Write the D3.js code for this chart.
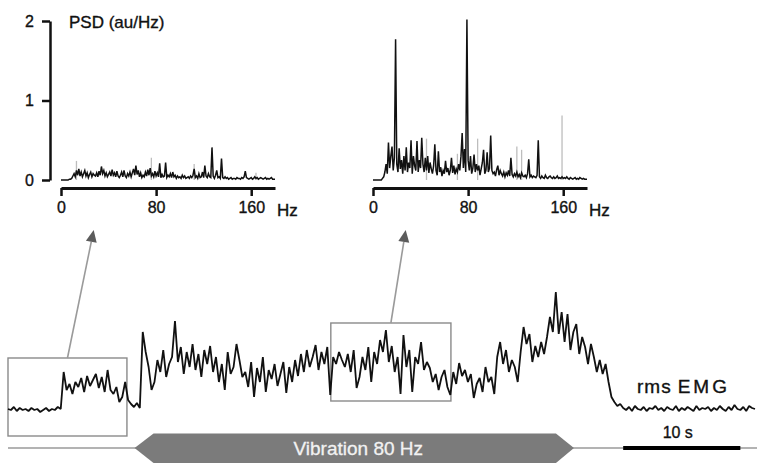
<!DOCTYPE html>
<html><head><meta charset="utf-8">
<script src="https://cdn.jsdelivr.net/npm/d3@7/dist/d3.min.js"></script>
<style>
body{margin:0;background:#fff}
svg{display:block}
text{font-family:"Liberation Sans",Arial,Helvetica,sans-serif}
</style>
</head><body>
<svg id="chart" width="766" height="472"></svg>
<script>
// ---------- DATA ----------
const psdFreqMax = 180;              // Hz, 1 Hz bins
const psdXTicks = [0, 80, 160];
const psdYTicks = [0, 1, 2];
const psdYLabel = "PSD (au/Hz)";
const freqUnit = "Hz";

// PSD at rest (window before vibration), au/Hz, index = Hz
const psdRest = [
0,0,0,0,0,0,0,0.01,0.01,0.02,
0.05,0.08,0.04,0.12,0.06,0.14,0.05,0.10,0.04,0.08,
0.12,0.05,0.09,0.03,0.07,0.10,0.04,0.08,0.06,0.05,
0.09,0.04,0.11,0.06,0.17,0.08,0.12,0.05,0.09,0.04,
0.07,0.10,0.05,0.13,0.06,0.09,0.04,0.11,0.05,0.03,
0.06,0.10,0.04,0.12,0.05,0.03,0.08,0.05,0.10,0.04,
0.09,0.14,0.06,0.18,0.07,0.12,0.04,0.09,0.03,0.06,
0.04,0.10,0.05,0.13,0.06,0.15,0.05,0.08,0.04,0.11,
0.05,0.09,0.04,0.21,0.03,0.07,0.04,0.05,0.22,0.03,
0.06,0.04,0.08,0.03,0.10,0.04,0.06,0.02,0.05,0.03,
0.04,0.02,0.06,0.03,0.05,0.02,0.03,0.04,0.02,0.05,
0.03,0.06,0.14,0.03,0.05,0.02,0.08,0.03,0.04,0.10,
0.03,0.18,0.05,0.03,0.08,0.04,0.03,0.41,0.05,0.02,
0.06,0.12,0.03,0.04,0.02,0.27,0.03,0.02,0.04,0.02,
0.03,0.01,0.02,0.03,0.01,0.02,0.02,0.01,0.03,0.02,
0.02,0.01,0.03,0.02,0.04,0.11,0.03,0.02,0.01,0.02,
0.03,0.01,0.02,0.04,0.02,0.03,0.01,0.02,0.03,0.02,
0.01,0.02,0.03,0.01,0.02,0.01,0.02,0.03,0.01,0.01,0.01
];
const psdRestLight = [[13,0.24],[76,0.28],[112,0.20],[164,0.09]];

// PSD during vibration, au/Hz, index = Hz
const psdVib = [
0,0,0,0,0,0,0,0,0.02,0.04,
0.10,0.20,0.08,0.47,0.15,0.30,0.42,0.12,0.28,1.77,
0.20,0.10,0.40,0.14,0.25,0.08,0.30,0.12,0.41,0.10,
0.22,0.15,0.50,0.08,0.30,0.18,0.12,0.49,0.10,0.25,
0.15,0.53,0.20,0.10,0.28,0.12,0.30,0.09,0.22,0.14,
0.08,0.18,0.45,0.12,0.06,0.36,0.10,0.16,0.05,0.12,
0.08,0.24,0.10,0.15,0.06,0.12,0.28,0.09,0.18,0.07,
0.14,0.10,0.20,0.12,0.30,0.59,0.15,0.39,0.10,2.02,
0.25,0.12,0.30,0.08,0.15,0.32,0.10,0.20,0.12,0.18,
0.06,0.14,0.22,0.38,0.08,0.12,0.35,0.10,0.15,0.56,
0.12,0.08,0.10,0.05,0.13,0.18,0.06,0.12,0.08,0.05,
0.10,0.04,0.09,0.06,0.12,0.05,0.28,0.07,0.04,0.08,
0.05,0.10,0.04,0.07,0.03,0.09,0.05,0.04,0.06,0.03,
0.08,0.26,0.04,0.06,0.03,0.05,0.04,0.03,0.06,0.50,
0.04,0.02,0.05,0.03,0.02,0.06,0.03,0.02,0.04,0.05,
0.03,0.02,0.04,0.02,0.03,0.05,0.02,0.03,0.02,0.04,
0.02,0.03,0.02,0.04,0.02,0.01,0.03,0.02,0.01,0.02,
0.03,0.01,0.02,0.01,0.03,0.02,0.01,0.02,0.01,0.01,0.01
];
const psdVibLight = [[45,0.52],[71,0.33],[88,0.52],[121,0.42],[125,0.38],[159,0.81]];

// rms EMG, arbitrary units, one value every 0.25 s
const emgStep = 0.25;
const emgRms = [
3,2,5,1,4,2,3,1,4,2,
3,0,2,4,1,3,2,5,3,40,
22,28,18,30,25,34,20,36,26,32,
38,24,35,20,42,22,18,25,10,15,30,12,
8,5,9,4,
80,60,45,22,30,52,40,62,35,48,55,91,50,65,38,60,45,68,42,58,35,62,48,66,40,
55,30,48,22,60,38,45,68,52,35,
40,25,50,15,44,30,55,20,42,33,
48,26,38,50,19,45,30,52,36,
58,40,62,45,55,67,42,60,48,65,17,
55,48,60,52,45,58,40,62,24,35,55,42,65,30,60,48,72,
60,82,50,66,40,55,18,77,45,62,20,55,48,70,42,50,
44,30,38,22,35,42,25,17,40,28,49,36,42,30,38,14,28,34,20,45,30,
35,18,55,70,48,62,40,52,45,30,
60,85,68,78,50,66,55,70,58,75,
95,80,120,78,100,70,
98,62,80,88,58,75,65,48,68,55,
40,52,38,48,30,15,10,6,8,
4,2,5,1,6,3,2,5,1,4,
3,6,2,4,1,5,3,2,6,1,
4,2,5,3,1,6,2,4,3,5,
1,4,2,6,3,1,5,2,7,3,
2,5,1,6,4,3
];
const emgLabelParts = ["rms", "EMG"];
const vibration = [10.8, 48.3];          // s
const vibrationLabel = "Vibration 80 Hz";
const analysisWindows = [[0, 10.15], [27.55, 37.8]];  // s
const scaleBar = [52.5, 62.5];           // s
const scaleBarLabel = "10 s";

// ---------- LAYOUT ----------
const svg = d3.select("#chart");
const ink = "#111";
const FONT = 16;
const TXT_STROKE = 0.35;

function heavy(sel) {
  return sel.attr("stroke", ink).attr("stroke-width", TXT_STROKE);
}

const yPsd = d3.scaleLinear().domain([0, 2]).range([180, 21]);
const panels = [
  {x0: 61, x1: 275, data: psdRest, light: psdRestLight, yAxis: true},
  {x0: 373, x1: 587, data: psdVib, light: psdVibLight, yAxis: false}
];

panels.forEach(p => {
  const x = d3.scaleLinear().domain([0, psdFreqMax]).range([p.x0, p.x1]);
  p.x = x;
  const g = svg.append("g");
  g.selectAll("line.light").data(p.light).join("line")
    .attr("x1", d => x(d[0])).attr("x2", d => x(d[0]))
    .attr("y1", yPsd(0)).attr("y2", d => yPsd(d[1]))
    .attr("stroke", "#bdbdbd").attr("stroke-width", 1.3);
  g.append("path").datum(p.data)
    .attr("d", d3.line().x((d, i) => x(i)).y(d => yPsd(d)))
    .attr("fill", "none").attr("stroke", ink).attr("stroke-width", 1.5)
    .attr("stroke-linejoin", "miter");
  const ax = g.append("g").attr("transform", "translate(0,188)")
    .call(d3.axisBottom(x).tickValues(psdXTicks).tickSize(8).tickSizeOuter(0).tickPadding(6));
  ax.select(".domain").attr("stroke", ink).attr("stroke-width", 3);
  ax.selectAll(".tick line").attr("stroke", ink).attr("stroke-width", 2.5);
  heavy(ax.selectAll(".tick text").attr("font-size", FONT).attr("fill", ink)
    .attr("font-family", '"Liberation Sans",Arial,sans-serif'));
  heavy(g.append("text").attr("x", p.x1 + 2).attr("y", 216)
    .attr("font-size", 17).attr("fill", ink).text(freqUnit));
  if (p.yAxis) {
    const ay = g.append("g").attr("transform", "translate(50,0)")
      .call(d3.axisLeft(yPsd).tickValues(psdYTicks).tickFormat(d3.format("d")).tickSize(8).tickSizeOuter(0).tickPadding(8));
    ay.select(".domain").attr("stroke", ink).attr("stroke-width", 2.5);
    ay.selectAll(".tick line").attr("stroke", ink).attr("stroke-width", 2.5);
    heavy(ay.selectAll(".tick text").attr("font-size", FONT).attr("fill", ink)
      .attr("font-family", '"Liberation Sans",Arial,sans-serif'));
    heavy(g.append("text").attr("x", 69).attr("y", 28).attr("font-size", 17)
      .attr("fill", ink).text(psdYLabel));
  }
});

// EMG trace
const xT = d3.scaleLinear().domain([0, (emgRms.length - 1) * emgStep]).range([8, 755]);
const yE = d3.scaleLinear().domain([0, 120]).range([412, 292]);

const boxRanges = [[-24, 54], [11, 89]];
analysisWindows.forEach((w, k) => {
  svg.append("rect")
    .attr("x", xT(w[0])).attr("y", yE(boxRanges[k][1]))
    .attr("width", xT(w[1]) - xT(w[0]))
    .attr("height", yE(boxRanges[k][0]) - yE(boxRanges[k][1]))
    .attr("fill", "none").attr("stroke", "#8a8a8a").attr("stroke-width", 1.4);
  const sx = (xT(w[0]) + xT(w[1])) / 2, sy = yE(boxRanges[k][1]);
  const ex = panels[k].x(27.5), ey = 230;
  const dx = ex - sx, dy = ey - sy, L = Math.hypot(dx, dy);
  const ux = dx / L, uy = dy / L;
  const hl = 12, hw = 5.5;
  const bx = ex - ux * hl, by = ey - uy * hl;
  svg.append("line").attr("x1", sx).attr("y1", sy).attr("x2", bx).attr("y2", by)
    .attr("stroke", "#9a9a9a").attr("stroke-width", 1.6);
  svg.append("polygon")
    .attr("points", [[ex, ey], [bx - uy * hw, by + ux * hw], [bx + uy * hw, by - ux * hw]].map(p => p.join(",")).join(" "))
    .attr("fill", "#5c5c5c");
});

svg.append("path").datum(emgRms)
  .attr("d", d3.line().x((d, i) => xT(i * emgStep)).y(d => yE(d)))
  .attr("fill", "none").attr("stroke", ink).attr("stroke-width", 1.8)
  .attr("stroke-linejoin", "bevel");

// time line + vibration band
const yBand = 448;
svg.append("line").attr("x1", 8).attr("x2", 757).attr("y1", yBand).attr("y2", yBand)
  .attr("stroke", "#9a9a9a").attr("stroke-width", 1.5);
const v0 = xT(vibration[0]), v1 = xT(vibration[1]);
svg.append("polygon")
  .attr("points", [[v0, yBand], [v0 + 19, yBand - 14.5], [v1 - 18, yBand - 14.5], [v1, yBand], [v1 - 18, yBand + 15], [v0 + 19, yBand + 15]].map(p => p.join(",")).join(" "))
  .attr("fill", "#7b7b7b");
svg.append("text").attr("x", (v0 + v1) / 2 + 4).attr("y", 455)
  .attr("text-anchor", "middle").attr("font-size", 19).attr("fill", "#f2f2f2")
  .attr("stroke", "#f2f2f2").attr("stroke-width", 0.3)
  .text(vibrationLabel);

// scale bar
svg.append("line").attr("x1", xT(scaleBar[0])).attr("x2", xT(scaleBar[1]))
  .attr("y1", yBand).attr("y2", yBand).attr("stroke", "#000").attr("stroke-width", 4);
heavy(svg.append("text").attr("x", (xT(scaleBar[0]) + xT(scaleBar[1])) / 2 - 4).attr("y", 438)
  .attr("text-anchor", "middle").attr("font-size", 16).attr("fill", ink).text(scaleBarLabel));

const lab = heavy(svg.append("text").attr("x", 637).attr("y", 393).attr("font-size", 19).attr("fill", ink));
lab.append("tspan").attr("letter-spacing", 1).text(emgLabelParts[0]);
lab.append("tspan").attr("dx", 6).attr("letter-spacing", 3).text(emgLabelParts[1]);
</script>
</body></html>
